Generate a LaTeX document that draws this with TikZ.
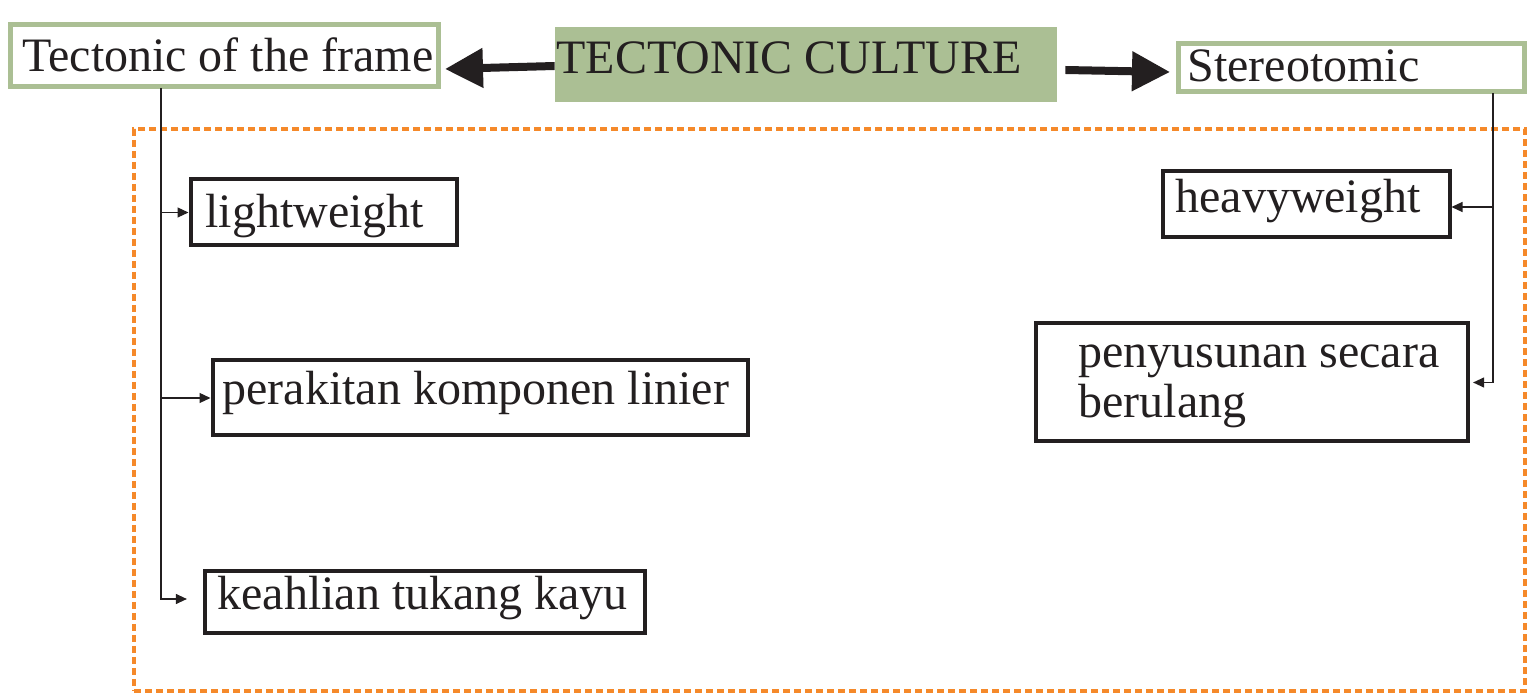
\documentclass[tikz,border=0pt]{standalone}
\usepackage{fontspec}
\setmainfont{Liberation Serif}
\usetikzlibrary{arrows.meta,fit}
\definecolor{tgreen}{RGB}{171,191,148}
\definecolor{torange}{RGB}{245,137,42}
\definecolor{tink}{RGB}{35,31,32}
\begin{document}
\begin{tikzpicture}[x=0.5pt,y=-0.5pt,
  txt/.style={inner sep=0pt, anchor=base west, text=tink, font=\fontsize{24}{25}\selectfont},
  gbox/.style={draw=tgreen, line width=2.5pt, inner sep=0pt},
  kbox/.style={draw=tink, line width=2pt, inner sep=0pt},
  dashbox/.style={draw=torange, line width=2pt, dash pattern=on 3.5pt off 2pt, inner sep=0pt},
  bigarrow/.style={draw=tink, line width=4pt, -{Triangle[length=19pt,width=19pt]}},
  conn/.style={draw=tink, line width=0.6pt},
  connarrow/.style={conn, -{Triangle[length=5.5pt,width=5pt]}}]
\useasboundingbox (0,0) rectangle (1528,695);

% dashed frame
\node[dashbox, fit={(134,129)(1525,691)}] (area) {};

% top row
\node[fit={(555,27)(1057,102)}, fill=tgreen, inner sep=0pt] (core) {};
\node[txt] (coretxt) at (556,74) {TECTONIC CULTURE};
\node[gbox, fit={(10.5,24.5)(438.5,86.5)}] (frame) {};
\node[txt] (frametxt) at (22,72) {Tectonic of the frame};
\node[gbox, fit={(1178.5,43.5)(1524.5,91.5)}] (stereo) {};
\node[txt] (stereotxt) at (1187,82) {Stereotomic};

% left boxes
\node[kbox, fit={(190.5,179.5)(456.5,245.5)}] (lw) {};
\node[txt] (lwtxt) at (205,228) {lightweight};
\node[kbox, fit={(212.5,360.5)(747.5,435.5)}] (pk) {};
\node[txt] (pktxt) at (222,405) {perakitan komponen linier};
\node[kbox, fit={(204.5,570.5)(644.5,632.5)}] (kk) {};
\node[txt] (kktxt) at (217,610) {keahlian tukang kayu};

% right boxes
\node[kbox, fit={(1162.5,171.5)(1449.5,237.5)}] (hw) {};
\node[txt] (hwtxt) at (1175,213) {heavyweight};
\node[kbox, fit={(1035.5,323.5)(1467.5,441.5)}] (ps) {};
\node[txt] (pstxt1) at (1078,368) {penyusunan secara};
\node[txt] (pstxt2) at (1078,418) {berulang};

% big arrows
\coordinate (latip) at (445,69);
\coordinate (ratip) at (1170,72);
\draw[bigarrow] ([yshift=-0.75pt]core.west) -- (latip);
\draw[bigarrow] ([xshift=4pt,yshift=-2.75pt]core.east) -- (ratip);

% left connectors
\coordinate (ltop) at (161,88);
\draw[connarrow, shorten >=7.8pt] (ltop) |- ([yshift=1.25pt]kk.west);
\draw[connarrow] (ltop |- lw.west) -- (lw.west);
\draw[connarrow] (ltop |- pk.west) -- (pk.west);

% right connectors
\coordinate (rtop) at (1493,93);
\coordinate (hwin) at ([yshift=-1.25pt]hw.east);
\draw[connarrow, shorten >=1.8pt] (rtop) |- (ps.east);
\draw[connarrow] (rtop |- hwin) -- (hwin);
\end{tikzpicture}
\end{document}
